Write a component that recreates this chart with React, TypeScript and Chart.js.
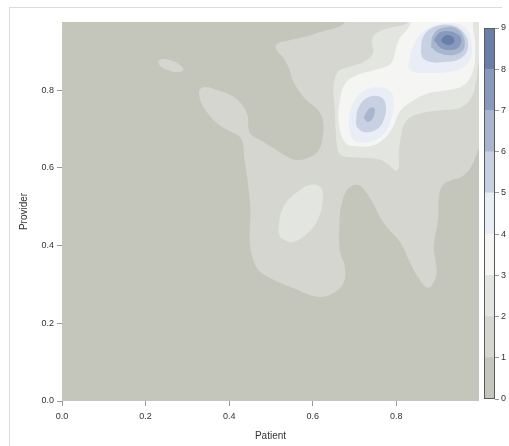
import React, { useEffect, useRef } from "react";
import { Chart, registerables } from "chart.js";

Chart.register(...registerables);

type P = [number, number];

const FONT = "'Liberation Sans', Arial, sans-serif";

// Contour level fill colours (level k covers density k..k+1)
const LEVEL_COLORS = [
  "#c4c6bc", "#d4d6cf", "#e3e5e0", "#f5f5f3", "#e9edf5",
  "#c8d1e2", "#a7b5cf", "#8799bd", "#6a7fa8",
];
const COLORBAR_TICKS = [0, 1, 2, 3, 4, 5, 6, 7, 8, 9];
const X_TICKS = [0, 0.2, 0.4, 0.6, 0.8];
const Y_TICKS = [0, 0.2, 0.4, 0.6, 0.8];
const X_RANGE: P = [0, 0.998];
const Y_RANGE: P = [0, 0.975];

// Contour regions (Patient, Provider)
const level0: P[] = [[-0.02, -0.02], [1.03, -0.02], [1.03, 1.0], [-0.02, 1.0]];

const level1Main: P[] = [
  [1.015, 0.985], [0.691, 0.985], [0.667, 0.965], [0.626, 0.952], [0.588, 0.939],
  [0.547, 0.929], [0.518, 0.921], [0.511, 0.908], [0.528, 0.885], [0.542, 0.859],
  [0.554, 0.821], [0.571, 0.792], [0.59, 0.769], [0.612, 0.749], [0.624, 0.723],
  [0.624, 0.679], [0.612, 0.641], [0.588, 0.625], [0.564, 0.62], [0.54, 0.628],
  [0.506, 0.651], [0.475, 0.671], [0.451, 0.687], [0.446, 0.705], [0.444, 0.736],
  [0.427, 0.767], [0.403, 0.787], [0.372, 0.8], [0.343, 0.808], [0.329, 0.8],
  [0.331, 0.774], [0.343, 0.749], [0.362, 0.723], [0.396, 0.697], [0.42, 0.684],
  [0.432, 0.666], [0.437, 0.62], [0.444, 0.568], [0.451, 0.491], [0.449, 0.427],
  [0.454, 0.376], [0.47, 0.337], [0.499, 0.316], [0.547, 0.293], [0.612, 0.268],
  [0.65, 0.278], [0.674, 0.304], [0.677, 0.345], [0.665, 0.388], [0.665, 0.473],
  [0.672, 0.517], [0.686, 0.548], [0.708, 0.556], [0.727, 0.538], [0.744, 0.509],
  [0.77, 0.458], [0.811, 0.406], [0.83, 0.363], [0.852, 0.319], [0.876, 0.291],
  [0.895, 0.319], [0.895, 0.355], [0.89, 0.396], [0.9, 0.466], [0.902, 0.525],
  [0.912, 0.556], [0.931, 0.568], [0.955, 0.576], [0.979, 0.602], [0.996, 0.646],
  [1.015, 0.684],
];

const level1Small: P[] = [
  [0.23, 0.875], [0.242, 0.88], [0.264, 0.875], [0.286, 0.862],
  [0.29, 0.851], [0.276, 0.846], [0.254, 0.851], [0.235, 0.862],
];

const level2Main: P[] = [
  [0.835, 0.985], [0.823, 0.97], [0.794, 0.962], [0.756, 0.949], [0.742, 0.929],
  [0.744, 0.895], [0.722, 0.872], [0.686, 0.859], [0.66, 0.846], [0.65, 0.808],
  [0.653, 0.749], [0.655, 0.697], [0.66, 0.646], [0.667, 0.633], [0.684, 0.628],
  [0.732, 0.625], [0.763, 0.62], [0.782, 0.607], [0.799, 0.592], [0.806, 0.602],
  [0.806, 0.638], [0.811, 0.679], [0.818, 0.71], [0.835, 0.731], [0.871, 0.743],
  [0.919, 0.749], [0.955, 0.756], [0.979, 0.779], [0.991, 0.821], [0.998, 0.877],
  [1.015, 0.929], [1.015, 0.985],
];

const level2Blob: P[] = [
  [0.523, 0.419], [0.518, 0.44], [0.53, 0.499], [0.564, 0.538], [0.595, 0.556],
  [0.619, 0.55], [0.624, 0.517], [0.612, 0.466], [0.588, 0.432], [0.552, 0.409],
];

const level3: P[] = [
  [0.84, 0.985], [0.828, 0.959], [0.806, 0.929], [0.792, 0.877], [0.782, 0.864],
  [0.746, 0.851], [0.708, 0.839], [0.679, 0.818], [0.665, 0.774], [0.662, 0.723],
  [0.67, 0.679], [0.684, 0.659], [0.698, 0.656], [0.739, 0.656], [0.77, 0.674],
  [0.792, 0.705], [0.804, 0.736], [0.818, 0.756], [0.842, 0.774], [0.876, 0.792],
  [0.924, 0.8], [0.962, 0.813], [0.984, 0.851], [0.989, 0.916], [0.984, 0.959],
  [0.979, 0.985],
];

const level4B: P[] = [
  [0.686, 0.705], [0.691, 0.749], [0.715, 0.792], [0.756, 0.808], [0.787, 0.795],
  [0.794, 0.767], [0.787, 0.723], [0.768, 0.684], [0.732, 0.666], [0.698, 0.671],
];
const level5B: P[] = [
  [0.703, 0.715], [0.71, 0.756], [0.734, 0.782], [0.763, 0.782], [0.775, 0.761],
  [0.77, 0.723], [0.751, 0.697], [0.722, 0.692], [0.708, 0.702],
];
const level6B: P[] = [
  [0.722, 0.728], [0.732, 0.749], [0.744, 0.756], [0.749, 0.749], [0.744, 0.728], [0.732, 0.718],
];

const level4A: P[] = [
  [0.828, 0.859], [0.835, 0.895], [0.852, 0.936], [0.883, 0.962], [0.924, 0.972],
  [0.962, 0.962], [0.979, 0.929], [0.979, 0.885], [0.962, 0.859], [0.924, 0.846],
  [0.876, 0.844], [0.842, 0.846],
];
const level5A: P[] = [
  [0.859, 0.895], [0.864, 0.936], [0.89, 0.962], [0.931, 0.967], [0.962, 0.947],
  [0.972, 0.911], [0.955, 0.882], [0.914, 0.872], [0.883, 0.872], [0.864, 0.882],
];
const level6A: P[] = [
  [0.883, 0.911], [0.888, 0.941], [0.907, 0.959], [0.943, 0.959], [0.962, 0.934],
  [0.96, 0.903], [0.936, 0.89], [0.902, 0.895],
];
const level7A: P[] = [
  [0.89, 0.929], [0.907, 0.949], [0.936, 0.949], [0.955, 0.934], [0.95, 0.911],
  [0.931, 0.903], [0.907, 0.908],
];
const level8A: P[] = [
  [0.907, 0.929], [0.919, 0.941], [0.936, 0.936], [0.938, 0.923], [0.926, 0.916], [0.912, 0.921],
];

const REGIONS: { level: number; pts: P[]; tension: number }[] = [
  { level: 0, pts: level0, tension: 0 },
  { level: 1, pts: level1Main, tension: 0.4 },
  { level: 1, pts: level1Small, tension: 0.4 },
  { level: 2, pts: level2Main, tension: 0.4 },
  { level: 2, pts: level2Blob, tension: 0.4 },
  { level: 3, pts: level3, tension: 0.4 },
  { level: 4, pts: level4B, tension: 0.4 },
  { level: 5, pts: level5B, tension: 0.4 },
  { level: 6, pts: level6B, tension: 0.4 },
  { level: 4, pts: level4A, tension: 0.4 },
  { level: 5, pts: level5A, tension: 0.4 },
  { level: 6, pts: level6A, tension: 0.4 },
  { level: 7, pts: level7A, tension: 0.4 },
  { level: 8, pts: level8A, tension: 0.4 },
];

const fmt1 = (v: any) => Number(v).toFixed(1);

export default function App() {
  const mainRef = useRef<HTMLCanvasElement | null>(null);
  const barRef = useRef<HTMLCanvasElement | null>(null);

  useEffect(() => {
    if (!mainRef.current || !barRef.current) return;

    const datasets = REGIONS.map((r) => ({
      data: r.pts.concat([r.pts[0]]).map(([x, y]) => ({ x, y })),
      showLine: true,
      fill: "shape" as const,
      backgroundColor: LEVEL_COLORS[r.level],
      borderColor: "rgba(0,0,0,0)",
      borderWidth: 0,
      tension: r.tension,
      pointRadius: 0,
      pointHoverRadius: 0,
      order: 20 - r.level,
    }));

    const tickFont = { family: FONT, size: 9 };
    const titleFont = { family: FONT, size: 10 };

    const main = new Chart(mainRef.current, {
      type: "scatter",
      data: { datasets: datasets as any },
      options: {
        responsive: false,
        maintainAspectRatio: false,
        animation: false,
        events: [],
        layout: { padding: { left: 14, top: 22, right: 30, bottom: 0 } },
        plugins: { legend: { display: false }, tooltip: { enabled: false } },
        elements: { line: { capBezierPoints: false } as any },
        scales: {
          x: {
            type: "linear",
            bounds: "data",
            min: X_RANGE[0],
            max: X_RANGE[1],
            afterFit: (s: any) => { s.height = 45; },
            afterBuildTicks: (s: any) => { s.ticks = X_TICKS.map((value) => ({ value })); },
            grid: { drawOnChartArea: false, tickLength: 5, color: "#9a9a9a" },
            border: { display: false },
            ticks: { padding: 5, color: "#333", font: tickFont, callback: fmt1, maxRotation: 0, autoSkip: false },
            title: { display: true, text: "Patient", color: "#333", font: titleFont, padding: { top: 4, bottom: 4 } },
          },
          y: {
            type: "linear",
            bounds: "data",
            min: Y_RANGE[0],
            max: Y_RANGE[1],
            afterFit: (s: any) => { s.width = 48; },
            afterBuildTicks: (s: any) => { s.ticks = Y_TICKS.map((value) => ({ value })); },
            grid: { drawOnChartArea: false, tickLength: 5, color: "#9a9a9a" },
            border: { display: false },
            ticks: { padding: 3, color: "#333", font: tickFont, callback: fmt1, autoSkip: false },
            title: { display: true, text: "Provider", color: "#333", font: titleFont, padding: { top: 4, bottom: 4 } },
          },
        },
      } as any,
    });

    const outline = {
      id: "cbOutline",
      afterDatasetsDraw(chart: any) {
        const { ctx, chartArea: a } = chart;
        ctx.save();
        ctx.strokeStyle = "#5a5a5a";
        ctx.lineWidth = 1;
        ctx.strokeRect(Math.round(a.left) + 0.5, Math.round(a.top) + 0.5, Math.round(a.right - a.left) - 1, Math.round(a.bottom - a.top) - 1);
        ctx.restore();
      },
    };

    const bar = new Chart(barRef.current, {
      type: "bar",
      data: {
        labels: [""],
        datasets: LEVEL_COLORS.map((c) => ({
          data: [1],
          backgroundColor: c,
          borderWidth: 0,
          barPercentage: 1,
          categoryPercentage: 1,
          stack: "cb",
        })),
      },
      options: {
        responsive: false,
        maintainAspectRatio: false,
        animation: false,
        events: [],
        layout: { padding: { left: 4, top: 28, right: 0, bottom: 47 } },
        plugins: { legend: { display: false }, tooltip: { enabled: false } },
        scales: {
          x: { display: false, stacked: true },
          y: {
            stacked: true,
            position: "right",
            min: COLORBAR_TICKS[0],
            max: COLORBAR_TICKS[COLORBAR_TICKS.length - 1],
            afterFit: (s: any) => { s.width = 14; },
            afterBuildTicks: (s: any) => { s.ticks = COLORBAR_TICKS.map((value) => ({ value })); },
            grid: { drawOnChartArea: false, tickLength: 4, color: "#9a9a9a" },
            border: { display: false },
            ticks: { padding: 2, color: "#333", font: tickFont, autoSkip: false },
          },
        },
      } as any,
      plugins: [outline],
    });

    return () => {
      main.destroy();
      bar.destroy();
    };
  }, []);

  return (
    <div style={{ position: "fixed", left: 0, top: 0, width: 509, height: 446, overflow: "hidden", background: "#fff" }}>
      <div
        style={{
          position: "absolute", left: 9, top: 7, width: 492, height: 460,
          borderTop: "1px solid #dcdcdc", borderLeft: "1px solid #dcdcdc",
        }}
      />
      <canvas
        ref={mainRef}
        width={509}
        height={446}
        style={{ position: "absolute", left: 0, top: 0, width: 509, height: 446 }}
      />
      <canvas
        ref={barRef}
        width={29}
        height={446}
        style={{ position: "absolute", left: 480, top: 0, width: 29, height: 446 }}
      />
    </div>
  );
}
